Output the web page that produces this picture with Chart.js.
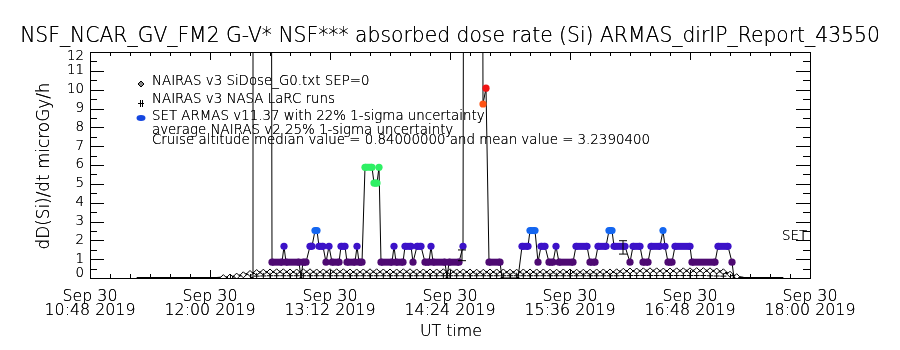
<!DOCTYPE html>
<html>
<head>
<meta charset="utf-8">
<script src="https://cdn.jsdelivr.net/npm/chart.js@4.4.1/dist/chart.umd.min.js"></script>
<style>
  html, body { margin: 0; padding: 0; background: #fff; }
  #wrap { width: 900px; height: 350px; }
</style>
</head>
<body>
<div id="wrap"><canvas id="c" width="900" height="350"></canvas></div>
<script>
// --- data (time = minutes after midnight UT, Sep 30 2019) ---
const xTickValues = [648, 720, 792, 864, 936, 1008, 1080];
const xTickDates = ['Sep 30', 'Sep 30', 'Sep 30', 'Sep 30', 'Sep 30', 'Sep 30', 'Sep 30'];
const xTickTimes = ['10:48 2019', '12:00 2019', '13:12 2019', '14:24 2019', '15:36 2019', '16:48 2019', '18:00 2019'];
const yTickValues = [0, 1, 2, 3, 4, 5, 6, 7, 8, 9, 10, 11, 12];

// NAIRAS v3 SiDose_G0 (diamonds), one sample every 4 min from 676
const g0Start = 676, g0Step = 4;
const g0Values = [
  0, 0, 0, 0, 0, 0, 0, 0, 0, 0, 0, 0, 0, 0.02,
  0.05, 0.1, 0.17, 0.24, 0.29, 0.31, 0.32, 0.33, 0.33, 0.32, 0.32, 0.33,
  0.33, 0.32, 0.32, 0.33, 0.33, 0.33, 0.32, 0.32, 0.32, 0.33, 0.33, 0.32,
  0.32, 0.32, 0.33, 0.33, 0.32, 0.32, 0.32, 0.32, 0.33, 0.33, 0.32, 0.32,
  0.32, 0.31, 0.31, 0.32, 0.32, 0.32, 0.31, 0.31, 0.32, 0.32, 0.32, 0.32,
  0.31, 0.31, 0.32, 0.32, 0.31, 0.31, 0.31, 0.32, 0.32, 0.32, 0.33, 0.36,
  0.37, 0.37, 0.38, 0.38, 0.38, 0.37, 0.37, 0.38, 0.38, 0.38, 0.39, 0.39,
  0.38, 0.37, 0.33, 0.2, 0.07, 0.01, 0, 0, 0, 0, 0, 0
];

// NAIRAS v3 NASA LaRC runs (plus signs), one sample every 4 min from 748
const larcStart = 748, larcStep = 4;
const larcValues = [
  0.1, 0.11, 0.12, 0.12, 0.12, 0.12, 0.12, 0.12, 0.12, 0.12, 0.12, 0.12,
  0.12, 0.12, 0.12, 0.12, 0.12, 0.12, 0.12, 0.12, 0.12, 0.12, 0.12, 0.12,
  0.12, 0.12, 0.12, 0.12, 0.12, 0.12, 0.12, 0.12, 0.12, 0.12, 0.12, 0.12,
  0.12, 0.12, 0.12, 0.12, 0.12, 0.12, 0.12, 0.12, 0.12, 0.12, 0.12, 0.12,
  0.12, 0.12, 0.12, 0.12, 0.12, 0.12, 0.12, 0.13, 0.13, 0.13, 0.13, 0.13,
  0.13, 0.13, 0.13, 0.13, 0.13, 0.13, 0.13, 0.13, 0.12, 0.11, 0.1
];

// SET ARMAS v11.37 dose rate (values > 12 are off the top of the plot)
const armasTimes = [
  745.2, 745.8, 756.0, 757.2, 763.2, 764.4, 765.6, 773.4, 774.6, 775.8,
  777.6, 780.0, 781.2, 783.0, 784.2, 785.4, 787.8, 789.6, 791.4, 793.2,
  797.4, 798.6, 801.0, 802.2, 807.0, 808.2, 809.4, 811.2, 813.0, 817.2,
  818.4, 820.2, 821.4, 822.6, 829.2, 830.4, 831.6, 835.8, 837.0, 840.6,
  841.8, 844.2, 846.6, 849.0, 851.4, 852.6, 853.8, 861.0, 862.2, 863.4,
  869.4, 871.8, 873.0, 882.6, 883.8, 885.6, 887.4, 894.0, 895.2, 904.8,
  907.2, 910.8, 912.0, 915.0, 916.8, 918.6, 921.0, 923.4, 925.8, 927.6,
  929.4, 937.8, 939.6, 946.2, 948.0, 951.0, 952.8, 957.6, 959.4, 961.2,
  962.4, 969.0, 972.0, 973.8, 978.0, 979.8, 982.8, 984.6, 990.0, 991.8,
  993.0, 994.8, 997.2, 999.0, 1008.0, 1009.2, 1023.0, 1024.8, 1030.8, 1033.2,
  1034.4
];
const armasValues = [
  0, 60, 60, 0.84, 0.84, 1.68, 0.84, 0.84, 0, 0.84,
  0.84, 1.68, 1.68, 2.52, 2.52, 1.68, 1.68, 0.84, 1.68, 0.84,
  0.84, 1.68, 1.68, 0.84, 0.84, 1.68, 0.84, 0.84, 5.88, 5.88,
  5.04, 5.04, 5.88, 0.84, 0.84, 1.68, 0.84, 0.84, 1.68, 1.68,
  0.84, 1.68, 1.68, 0.84, 0.84, 1.68, 0.84, 0.84, 0, 0.84,
  0.84, 1.68, 60, 60, 9.24, 10.08, 0.84, 0.84, 0, 0,
  1.68, 1.68, 2.52, 2.52, 0.84, 1.68, 1.68, 0.84, 0.84, 1.68,
  0.84, 0.84, 1.68, 1.68, 0.84, 0.84, 1.68, 1.68, 2.52, 2.52,
  1.68, 1.68, 0.84, 1.68, 1.68, 0.84, 0.84, 1.68, 1.68, 2.52,
  1.68, 0.84, 0.84, 1.68, 1.68, 0.84, 0.84, 1.68, 1.68, 0.84,
  0
];

// average NAIRAS v2 with 25% 1-sigma uncertainty
const errTimes = [871.2, 967.8];
const errLow = [0.92, 1.27];
const errHigh = [1.49, 1.98];

function levelColor(v) {
  if (v <= 0) return '#000000';
  if (v < 1) return '#4e0a72';
  if (v < 2) return '#3c12c8';
  if (v < 3) return '#1466f0';
  if (v < 7) return '#2ef064';
  if (v < 9.5) return '#ff5414';
  return '#f01414';
}

const g0Data = g0Values.map((v, i) => ({ x: g0Start + i * g0Step, y: v }));
const larcData = larcValues.map((v, i) => ({ x: larcStart + i * larcStep, y: v }));
const armasData = armasTimes.map((t, i) => ({ x: t, y: armasValues[i] }));

const errSets = errTimes.map((t, i) => ({
  data: [{ x: t, y: errLow[i] }, { x: t, y: errHigh[i] }],
  borderColor: '#000', borderWidth: 1,
  pointStyle: 'line', pointRadius: 4, pointBorderColor: '#000', pointBorderWidth: 1,
  order: 0
}));

const FAM = "'DejaVu Sans', 'Liberation Sans', sans-serif";
const WEIGHT = '200';

// font size (px) so that text spans the given width, like the vector font in the original
function fitFont(ctx, text, width) {
  ctx.font = WEIGHT + ' 100px ' + FAM;
  const size = 100 * width / ctx.measureText(text).width;
  return WEIGHT + ' ' + size.toFixed(2) + 'px ' + FAM;
}

// thin font drawn twice so the strokes come out black like the original
function text(ctx, s, x, y) {
  ctx.fillText(s, x, y);
  ctx.fillText(s, x, y);
}

const idlFrame = {
  id: 'idlFrame',
  afterDraw(chart) {
    const { ctx, chartArea: a } = chart;
    const xs = chart.scales.x, ys = chart.scales.y;
    ctx.save();
    ctx.strokeStyle = '#000';
    ctx.lineWidth = 1;
    ctx.strokeRect(a.left + 0.5, a.top + 0.5, a.right - a.left, a.bottom - a.top);

    // y ticks, both sides, pointing inward
    ctx.beginPath();
    for (let v = 0; v <= 12; v += 0.5) {
      const py = Math.round(ys.getPixelForValue(v)) + 0.5;
      const len = Number.isInteger(v) ? 14 : 7;
      ctx.moveTo(a.left, py); ctx.lineTo(a.left + len, py);
      ctx.moveTo(a.right, py); ctx.lineTo(a.right - len, py);
    }
    // x ticks, top and bottom
    for (let m = 648; m <= 1080; m += 12) {
      const px = Math.round(xs.getPixelForValue(m)) + 0.5;
      const len = (m - 648) % 72 === 0 ? 8 : 4;
      ctx.moveTo(px, a.bottom); ctx.lineTo(px, a.bottom - len);
      ctx.moveTo(px, a.top); ctx.lineTo(px, a.top + len);
    }
    ctx.stroke();

    ctx.fillStyle = '#000';
    // y tick labels
    ctx.font = fitFont(ctx, '10', 17);
    ctx.textAlign = 'right';
    ctx.textBaseline = 'middle';
    yTickValues.forEach(v => {
      let py = ys.getPixelForValue(v);
      py = Math.min(Math.max(py, a.top + 5), a.bottom - 4);
      text(ctx, String(v), 84, py);
    });
    // x tick labels
    ctx.font = fitFont(ctx, '10:48 2019', 91);
    ctx.textAlign = 'center';
    xTickValues.forEach((m, i) => {
      const px = xs.getPixelForValue(m);
      text(ctx, xTickDates[i], px, 297);
      text(ctx, xTickTimes[i], px, 311);
    });
    text(ctx, 'UT time', 451, 332);

    // title
    const title = 'NSF_NCAR_GV_FM2 G-V* NSF*** absorbed dose rate (Si) ARMAS_dirIP_Report_43550';
    ctx.font = fitFont(ctx, title, 860);
    text(ctx, title, 450, 37);

    // y axis title
    ctx.save();
    ctx.translate(45, 166);
    ctx.rotate(-Math.PI / 2);
    ctx.font = fitFont(ctx, 'dD(Si)/dt microGy/h', 167);
    text(ctx, 'dD(Si)/dt microGy/h', 0, 0);
    ctx.restore();

    // legend text
    ctx.font = fitFont(ctx, 'SET ARMAS v11.37 with 22% 1-sigma uncertainty', 333);
    ctx.textAlign = 'left';
    text(ctx, 'NAIRAS v3 SiDose_G0.txt SEP=0', 152, 82);
    text(ctx, 'NAIRAS v3 NASA LaRC runs', 152, 100);
    text(ctx, 'SET ARMAS v11.37 with 22% 1-sigma uncertainty', 152, 117);
    text(ctx, 'average NAIRAS v2 25% 1-sigma uncertainty', 152, 131);
    text(ctx, 'Cruise altitude median value = 0.84000000 and mean value = 3.2390400', 152, 141);
    text(ctx, 'SET', 782, 237);

    // legend symbols
    ctx.beginPath();
    ctx.moveTo(141, 81); ctx.lineTo(144, 84); ctx.lineTo(141, 87); ctx.lineTo(138, 84); ctx.closePath();
    ctx.fillStyle = '#888'; ctx.fill(); ctx.stroke();
    ctx.beginPath();
    ctx.moveTo(138, 103.5); ctx.lineTo(144, 103.5);
    ctx.moveTo(140.5, 100); ctx.lineTo(140.5, 107);
    ctx.moveTo(142.5, 100); ctx.lineTo(142.5, 107);
    ctx.stroke();
    ctx.beginPath();
    ctx.ellipse(141, 118, 4.5, 3, 0, 0, Math.PI * 2);
    ctx.fillStyle = '#1446e0'; ctx.fill();
    ctx.restore();
  }
};

new Chart(document.getElementById('c'), {
  type: 'line',
  data: {
    datasets: [
      {
        label: 'SET ARMAS levels',
        data: armasData,
        borderWidth: 7,
        borderCapStyle: 'butt',
        segment: {
          borderColor: c => (c.p0.parsed.y === c.p1.parsed.y && c.p0.parsed.y > 0) ? levelColor(c.p0.parsed.y) : 'rgba(0,0,0,0)'
        },
        pointRadius: c => (c.raw && c.raw.y > 0 ? 3.6 : 1.5),
        pointBackgroundColor: c => levelColor(c.raw ? c.raw.y : 1),
        pointBorderWidth: 0,
        order: 1
      },
      ...errSets,
      {
        label: 'SET ARMAS trace',
        data: armasData,
        borderColor: '#000',
        borderWidth: 1,
        pointRadius: 0,
        order: 2
      },
      {
        label: 'NAIRAS v3 NASA LaRC runs',
        data: larcData,
        showLine: false,
        pointStyle: 'cross',
        pointRadius: 3,
        pointBorderColor: '#000',
        pointBorderWidth: 1,
        order: 3
      },
      {
        label: 'NAIRAS v3 SiDose_G0.txt SEP=0',
        data: g0Data,
        borderColor: '#000',
        borderWidth: 2,
        pointStyle: 'rectRot',
        pointRadius: c => (c.raw && c.raw.y > 0.015 ? 3 : 0),
        pointBackgroundColor: '#fff',
        pointBorderColor: '#000',
        pointBorderWidth: 1,
        order: 4
      }
    ]
  },
  options: {
    responsive: false,
    animation: false,
    events: [],
    layout: { padding: { left: 90, right: 90, top: 52, bottom: 72 } },
    plugins: { legend: { display: false }, tooltip: { enabled: false } },
    elements: { line: { tension: 0 } },
    scales: {
      x: { type: 'linear', min: 648, max: 1080, display: false },
      y: { type: 'linear', min: 0, max: 12, display: false }
    }
  },
  plugins: [idlFrame]
});
</script>
</body>
</html>
